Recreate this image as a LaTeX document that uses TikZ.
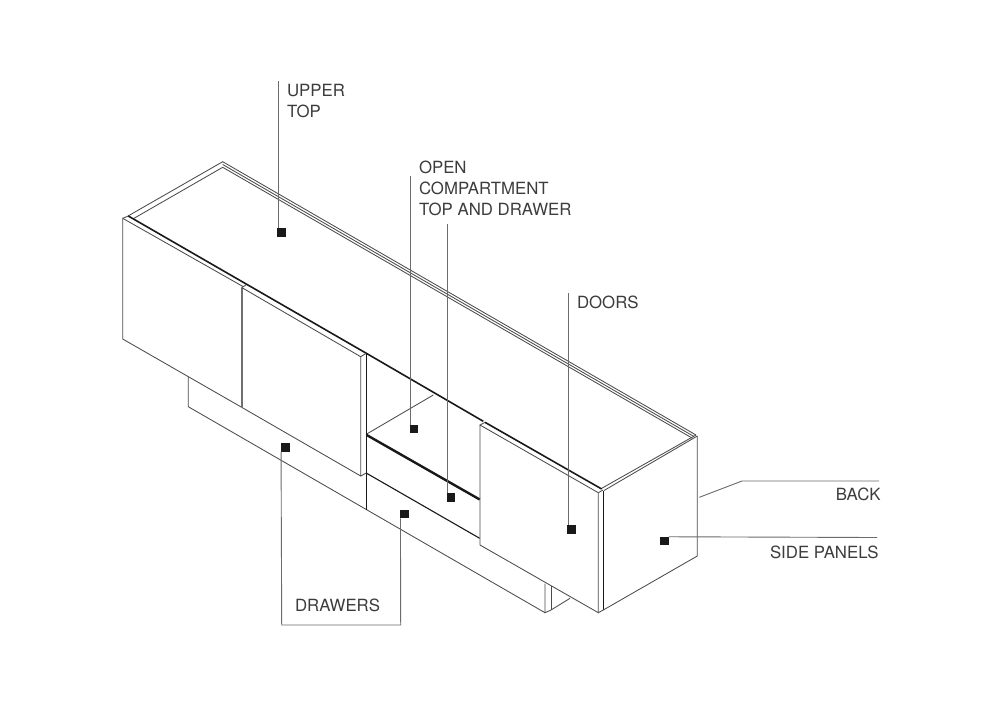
\documentclass[tikz,border=0pt]{standalone}
\usepackage{fontspec}
\setmainfont{TeX Gyre Heros}
\definecolor{ink}{gray}{0.1}
\definecolor{edge}{gray}{0.3}
\definecolor{lead}{gray}{0.42}
\tikzset{
  x=1pt,y=-1pt,
  thin edge/.style={draw=edge,line width=0.85pt,line join=miter},
  mid edge/.style={draw=ink,line width=1.1pt},
  dark edge/.style={draw=ink,line width=1.6pt},
  heavy edge/.style={draw=ink,line width=2.4pt},
  wide gray/.style={draw=edge!80,line width=1.7pt},
  leader/.style={draw=lead,line width=0.9pt},
  marker/.style={fill=ink,draw=none,minimum size=8.5pt,inner sep=0pt,outer sep=0pt,rectangle},
  label/.style={inner sep=0pt,outer sep=0pt,text=ink!85!white,font=\fontsize{16.8}{21}\selectfont,align=left,anchor=base west},
  rlabel/.style={label,align=right,anchor=base east},
}
\begin{document}
\begin{tikzpicture}
\useasboundingbox (0,0) rectangle (1000,724);
\fill[white] (0,0) rectangle (1000,724);
% top rim
\draw[thin edge] (128,216) -- (222.7,161.7) -- (696,435);
\draw[thin edge] (134,218.3) -- (222.7,167.3) -- (692,438);
\draw[thin edge] (222.7,164.5) -- (694,436.5);
\draw[thin edge] (601.7,488.3) -- (696,435);
\draw[thin edge] (604,490.5) -- (697.3,436);
% heavy front top edges
\draw[dark edge] (128.3,216) -- (366.7,353.5) -- (483.3,421.3);
\draw[dark edge] (485,422.3) -- (601.7,489);
% left door
\draw[thin edge] (243.3,286.7) -- (122.7,218.3) -- (122.7,339) -- (241.7,407.3);
\draw[thin edge] (122.7,218.3) -- (128.3,216);
\draw[wide gray] (241.7,287.5) -- (241.7,407.3);
\draw[thin edge] (241.7,287.5) -- (246,285);
% second door
\draw[thin edge] (241.7,287.5) -- (360.7,356.7) -- (360.7,476) -- (241.7,407.3);
\draw[thin edge] (360.7,356.7) -- (366,353.5);
\draw[thin edge] (360.7,476) -- (366.7,472.7);
% base
\draw[thin edge] (188.3,376.7) -- (188.3,406.7) -- (545,612.7);
% open compartment and drawers
\draw[mid edge] (366.3,354) -- (366.3,510);
\draw[thin edge] (366.7,434) -- (433.3,395);
\draw[heavy edge] (366.7,435) -- (479.7,499.5);
\draw[mid edge] (366.7,473.3) -- (479.7,538.3);
% third door
\draw[thin edge] (485,422.3) -- (480,425) -- (598.3,492.7) -- (598.3,612.7) -- (480,545) -- (480,425);
\draw[thin edge] (598.3,492.7) -- (603,490);
% side panel
\draw[mid edge] (603.3,491) -- (603.3,610);
\draw[thin edge] (598.3,612.7) -- (603.3,610) -- (697.3,556) -- (697.3,436);
% feet at right end
\draw[thin edge] (545,583.5) -- (545,612.7) -- (551,610);
\draw[thin edge] (551,586) -- (551,610);
\draw[thin edge] (551,610) -- (570,598.3);
% markers
\node[marker] (mUpper) at (281.7,232.3) {};
\node[marker] (mOpen) at (414,429) {};
\node[marker] (mTopDrawer) at (451,497.7) {};
\node[marker] (mDoors) at (571.7,529.3) {};
\node[marker] (mSide) at (664.7,541) {};
\node[marker] (mDrawerA) at (285.3,447.3) {};
\node[marker] (mDrawerB) at (404.7,514) {};
% labels
\node[label] (tUpper) at (287,117) {UPPER\\TOP};
\node[label] (tOpen) at (419,215) {OPEN\\COMPARTMENT\\TOP AND DRAWER};
\node[label] (tDoors) at (577,308) {DOORS};
\node[rlabel] (tBack) at (880.5,500.5) {BACK};
\node[rlabel] (tSide) at (878.5,558) {SIDE PANELS};
\node[label] (tDrawers) at (295,611) {DRAWERS};
% leaders
\coordinate (eUpper) at (278.5,81);
\coordinate (eOpen) at (410.3,176);
\coordinate (eTop) at (447.3,224);
\coordinate (eDoors) at (568.3,293);
\coordinate (bA) at (699.3,497.3);
\coordinate (bB) at (742,481);
\coordinate (bC) at (879,481);
\coordinate (sA) at (877,537.5);
\coordinate (dA) at (281.7,625);
\coordinate (dB) at (400.7,625);
\draw[leader] (eUpper) -- (eUpper |- mUpper.north);
\draw[leader] (eOpen) -- (eOpen |- mOpen.north);
\draw[leader] (eTop) -- (eTop |- mTopDrawer.north);
\draw[leader] (eDoors) -- (eDoors |- mDoors.north);
\draw[leader] (bA) -- (bB) -- (bC);
\draw[leader] (mSide.north east) -- (sA);
\draw[leader] (mDrawerA.south west) -- (dA) -- (dB) -- (mDrawerB.south west);
\end{tikzpicture}
\end{document}
